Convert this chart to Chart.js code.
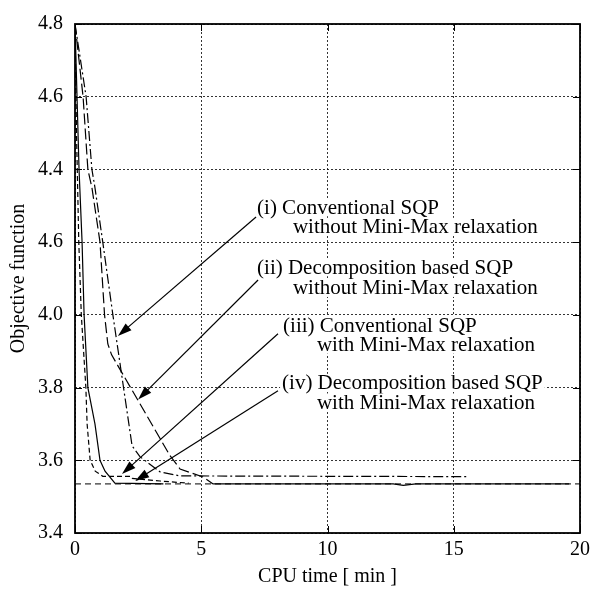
<!DOCTYPE html>
<html><head><meta charset="utf-8">
<script src="https://cdn.jsdelivr.net/npm/chart.js@4"></script>
<style>html,body{margin:0;padding:0;background:#fff}</style>
</head><body>
<canvas id="c" width="600" height="592"></canvas>
<script>
// ---- data ----
const xTickValues = [0, 5, 10, 15, 20];
const yTickValues = [3.4, 3.6, 3.8, 4.0, 4.2, 4.4, 4.6, 4.8];
const yTickLabels = ['3.4', '3.6', '3.8', '4.0', '4.6', '4.4', '4.6', '4.8'];

// (i) Conventional SQP without Mini-Max relaxation
const convNoMMx = [0, 0.44, 0.67, 0.79, 1.1, 1.5, 2.26, 2.57, 3.37, 4.16, 15.6];
const convNoMMy = [4.8, 4.6, 4.4, 4.35, 4.2, 4.0, 3.64, 3.61, 3.568, 3.557, 3.555];

// (ii) Decomposition based SQP without Mini-Max relaxation
const decNoMMx = [0, 0.32, 0.51, 0.67, 0.99, 1.17, 1.3, 1.45, 3.76, 4.16, 5.07, 5.47, 12.6, 13.0, 13.5, 19.57];
const decNoMMy = [4.8, 4.6, 4.4, 4.35, 4.2, 4.0, 3.92, 3.89, 3.613, 3.576, 3.554, 3.535, 3.535, 3.531, 3.535, 3.535];

// (iii) Conventional SQP with Mini-Max relaxation
const convMMx = [0, 0.06, 0.15, 0.25, 0.43, 0.48, 0.6, 0.8, 1.1, 2.18, 2.26, 3.37, 4.5];
const convMMy = [4.8, 4.5, 4.2, 4.0, 3.8, 3.7, 3.6, 3.57, 3.556, 3.556, 3.55, 3.543, 3.537];

// (iv) Decomposition based SQP with Mini-Max relaxation
const decMMx = [0, 0.08, 0.16, 0.28, 0.36, 0.51, 0.79, 0.99, 1.19, 1.58, 3.5];
const decMMy = [4.8, 4.6, 4.4, 4.2, 4.0, 3.8, 3.7, 3.6, 3.57, 3.537, 3.535];

// reference optimum level
const refX = [0, 20];
const refY = [3.535, 3.535];

// annotation texts
const labelLines = [
  ['(i) Conventional SQP', 'without Mini-Max relaxation'],
  ['(ii) Decomposition based SQP', 'without Mini-Max relaxation'],
  ['(iii) Conventional SQP', 'with Mini-Max relaxation'],
  ['(iv) Decomposition based SQP', 'with Mini-Max relaxation']
];

const zip = (xs, ys) => xs.map((x, i) => ({x: x, y: ys[i]}));
const FONT = '"Liberation Serif", "Times New Roman", serif';

// annotation placement (data coordinates)
const annotations = [
  {l1: [7.21, 4.296], l2: [8.63, 4.242], from: [7.17, 4.269], to: [1.70, 3.942]},
  {l1: [7.21, 4.131], l2: [8.63, 4.074], from: [7.25, 4.096], to: [2.50, 3.767]},
  {l1: [8.24, 3.972], l2: [9.58, 3.918], from: [8.04, 3.948], to: [1.86, 3.562]},
  {l1: [8.20, 3.813], l2: [9.58, 3.759], from: [8.04, 3.791], to: [2.38, 3.543]}
];

const framePlugin = {
  id: 'frame',
  afterDatasetsDraw(chart) {
    const {ctx, chartArea: a, scales: {x, y}} = chart;
    ctx.save();
    // text labels with white background
    ctx.font = '21px ' + FONT;
    ctx.textBaseline = 'middle';
    ctx.textAlign = 'left';
    annotations.forEach((an, k) => {
      [an.l1, an.l2].forEach((p, j) => {
        const px = x.getPixelForValue(p[0]);
        const py = y.getPixelForValue(p[1]);
        const t = labelLines[k][j];
        const w = ctx.measureText(t).width;
        ctx.fillStyle = '#fff';
        ctx.fillRect(px - 2, py - 9, w + 4, 18);
        ctx.fillStyle = '#000';
        ctx.fillText(t, px, py + 1);
      });
      // arrow
      const x0 = x.getPixelForValue(an.from[0]), y0 = y.getPixelForValue(an.from[1]);
      const x1 = x.getPixelForValue(an.to[0]), y1 = y.getPixelForValue(an.to[1]);
      const ang = Math.atan2(y1 - y0, x1 - x0);
      const L = 14, W = 4.5;
      ctx.strokeStyle = '#000';
      ctx.lineWidth = 1.2;
      ctx.setLineDash([]);
      ctx.beginPath();
      ctx.moveTo(x0, y0);
      ctx.lineTo(x1 - Math.cos(ang) * L * 0.8, y1 - Math.sin(ang) * L * 0.8);
      ctx.stroke();
      ctx.fillStyle = '#000';
      ctx.beginPath();
      ctx.moveTo(x1, y1);
      ctx.lineTo(x1 - Math.cos(ang) * L - Math.sin(ang) * W, y1 - Math.sin(ang) * L + Math.cos(ang) * W);
      ctx.lineTo(x1 - Math.cos(ang) * L + Math.sin(ang) * W, y1 - Math.sin(ang) * L - Math.cos(ang) * W);
      ctx.closePath();
      ctx.fill();
    });
    // inward ticks
    ctx.lineWidth = 1;
    ctx.strokeStyle = '#000';
    ctx.beginPath();
    yTickValues.forEach(v => {
      const py = Math.round(y.getPixelForValue(v)) + 0.5;
      ctx.moveTo(a.left, py); ctx.lineTo(a.left + 7, py);
      ctx.moveTo(a.right, py); ctx.lineTo(a.right - 7, py);
    });
    xTickValues.forEach(v => {
      const px = Math.round(x.getPixelForValue(v)) + 0.5;
      ctx.moveTo(px, a.bottom); ctx.lineTo(px, a.bottom - 7);
      ctx.moveTo(px, a.top); ctx.lineTo(px, a.top + 7);
    });
    ctx.stroke();
    // frame
    ctx.lineWidth = 1.8;
    ctx.strokeRect(a.left, a.top, a.right - a.left, a.bottom - a.top);
    ctx.restore();
  }
};

const common = {pointRadius: 0, borderColor: '#000', fill: false, tension: 0, borderWidth: 1.2};

new Chart(document.getElementById('c'), {
  type: 'line',
  data: {
    datasets: [
      Object.assign({label: 'ref', data: zip(refX, refY), borderDash: [6, 4]}, common, {borderWidth: 1}),
      Object.assign({label: '(i)', data: zip(convNoMMx, convNoMMy), borderDash: [10, 3, 2, 3]}, common),
      Object.assign({label: '(ii)', data: zip(decNoMMx, decNoMMy), borderDash: [11, 4],
        segment: {borderDash: ctx => ctx.p0.parsed.x >= 5.4 ? [] : undefined}}, common),
      Object.assign({label: '(iii)', data: zip(convMMx, convMMy), borderDash: [5, 3]}, common),
      Object.assign({label: '(iv)', data: zip(decMMx, decMMy), borderDash: []}, common)
    ]
  },
  options: {
    responsive: false,
    animation: false,
    events: [],
    layout: {padding: {top: 14, right: 20, left: 0, bottom: 0}},
    plugins: {legend: {display: false}, tooltip: {enabled: false}},
    scales: {
      x: {
        type: 'linear', min: 0, max: 20,
        afterBuildTicks: s => { s.ticks = xTickValues.map(v => ({value: v})); },
        afterFit: s => { s.height = 59; },
        ticks: {color: '#000', font: {family: FONT, size: 20}, padding: 5, maxRotation: 0,
          callback: v => String(v)},
        grid: {color: '#000', lineWidth: 0.8, drawTicks: false},
        border: {display: false, dash: [2, 2]},
        title: {display: true, text: 'CPU time [ min ]', color: '#000',
          font: {family: FONT, size: 20}, padding: {top: 0, bottom: 3}}
      },
      y: {
        type: 'linear', min: 3.4, max: 4.8,
        afterBuildTicks: s => { s.ticks = yTickValues.map(v => ({value: v})); },
        afterFit: s => { s.width = 75; },
        ticks: {color: '#000', font: {family: FONT, size: 20}, padding: 12,
          callback: (v, i) => yTickLabels[i]},
        grid: {color: '#000', lineWidth: 0.8, drawTicks: false},
        border: {display: false, dash: [2, 2]},
        title: {display: true, text: 'Objective function', color: '#000',
          font: {family: FONT, size: 20}, padding: {top: 7, bottom: 0}}
      }
    }
  },
  plugins: [framePlugin]
});
</script>
</body></html>
